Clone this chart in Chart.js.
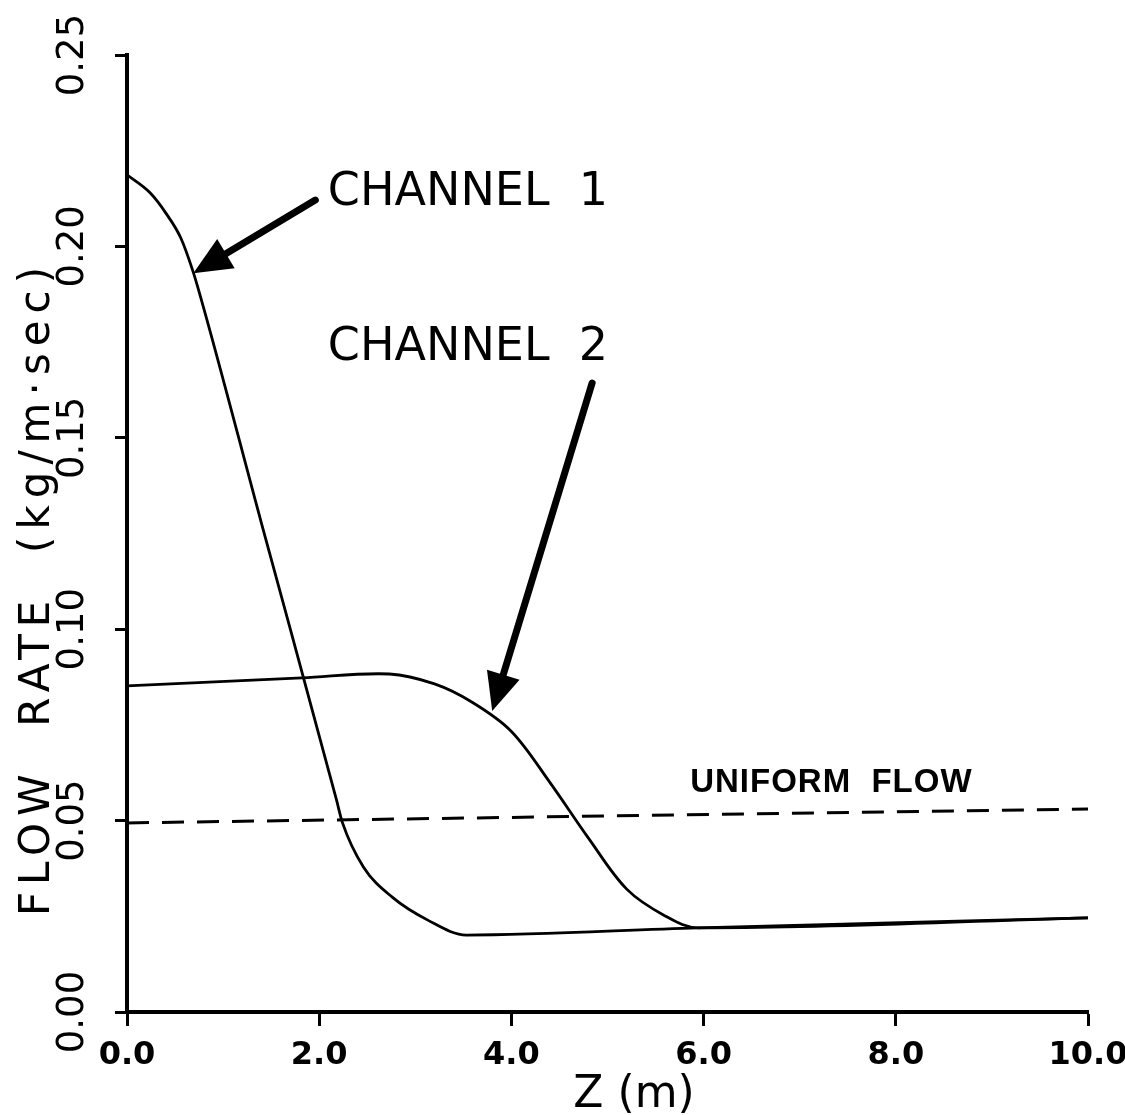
<!DOCTYPE html>
<html>
<head>
<meta charset="utf-8">
<script src="https://cdn.jsdelivr.net/npm/chart.js@4/dist/chart.umd.min.js"></script>
<style>
  html, body { margin: 0; padding: 0; background: #fff; }
  canvas { display: block; }
</style>
</head>
<body>
<canvas id="flowChart" width="1125" height="1115"></canvas>
<script>
// values
const zChannel1 = [0, 0.24, 0.41, 0.56, 0.68, 0.76, 1.40, 2.18, 2.24, 2.46, 2.76, 3.13, 3.53, 5.94, 10];
const flowChannel1 = [0.2187, 0.2140, 0.2085, 0.2022, 0.1940, 0.1873, 0.1276, 0.0554, 0.0496, 0.0379, 0.0300, 0.0240, 0.0201, 0.0220, 0.0246];

const zChannel2 = [0, 1.82, 2.73, 3.2, 3.6, 4.0, 4.4, 4.8, 5.2, 5.6, 5.94, 10];
const flowChannel2 = [0.0852, 0.0873, 0.0883, 0.0857, 0.0808, 0.0733, 0.0600, 0.0455, 0.0321, 0.0251, 0.0220, 0.0246];

const zUniform = [0, 10];
const flowUniform = [0.0494, 0.0530];

const zTicks = [0, 2, 4, 6, 8, 10];
const flowTicks = [0, 0.05, 0.10, 0.15, 0.20, 0.25];

const xTitle = 'Z (m)';
const yTitle = 'FLOW  RATE  (kg/m\u00B7sec)';

// labels and arrows, placed in data units
const labels = [
  { text: 'CHANNEL  1', z: 2.09, v: 0.2108, font: '46px "DejaVu Sans"', spacing: '0px' },
  { text: 'CHANNEL  2', z: 2.09, v: 0.1703, font: '46px "DejaVu Sans"', spacing: '0px' },
  { text: 'UNIFORM  FLOW', z: 5.86, v: 0.0575, font: 'bold 33px "Liberation Sans"', spacing: '1px' }
];
const arrows = [
  { from: [1.96, 0.2121], to: [0.69, 0.1930] },
  { from: [4.84, 0.1643], to: [3.80, 0.0786] }
];

function toPoints(xs, ys) {
  return xs.map((x, i) => ({ x: x, y: ys[i] }));
}

const lettering = {
  id: 'lettering',
  afterDraw(chart) {
    const { ctx, scales: { x, y } } = chart;
    ctx.save();
    ctx.fillStyle = '#000';
    ctx.strokeStyle = '#000';

    // axis titles
    ctx.textAlign = 'center';
    ctx.textBaseline = 'alphabetic';
    ctx.font = '44px "DejaVu Sans"';
    ctx.fillText(xTitle, 634, 1107);

    ctx.save();
    ctx.translate(49, 588);
    ctx.rotate(-Math.PI / 2);
    ctx.font = '42px "DejaVu Sans"';
    ctx.letterSpacing = '7px';
    ctx.fillText(yTitle, 0, 0);
    ctx.restore();

    // callouts
    ctx.textAlign = 'left';
    labels.forEach(l => {
      ctx.font = l.font;
      ctx.letterSpacing = l.spacing;
      ctx.fillText(l.text, x.getPixelForValue(l.z), y.getPixelForValue(l.v));
    });
    ctx.letterSpacing = '0px';

    arrows.forEach(a => {
      const x0 = x.getPixelForValue(a.from[0]), y0 = y.getPixelForValue(a.from[1]);
      const x1 = x.getPixelForValue(a.to[0]), y1 = y.getPixelForValue(a.to[1]);
      const ang = Math.atan2(y1 - y0, x1 - x0);
      const headLen = 38, headHalf = 17;
      const bx = x1 - headLen * Math.cos(ang), by = y1 - headLen * Math.sin(ang);
      ctx.lineWidth = 7;
      ctx.lineCap = 'round';
      ctx.beginPath();
      ctx.moveTo(x0, y0);
      ctx.lineTo(bx + 4 * Math.cos(ang), by + 4 * Math.sin(ang));
      ctx.stroke();
      ctx.beginPath();
      ctx.moveTo(x1, y1);
      ctx.lineTo(bx + headHalf * Math.sin(ang), by - headHalf * Math.cos(ang));
      ctx.lineTo(bx - headHalf * Math.sin(ang), by + headHalf * Math.cos(ang));
      ctx.closePath();
      ctx.fill();
    });
    ctx.restore();
  }
};

const lineStyle = {
  showLine: true,
  pointRadius: 0,
  borderColor: '#000',
  backgroundColor: '#000',
  borderWidth: 2.8,
  cubicInterpolationMode: 'monotone',
  fill: false
};

new Chart(document.getElementById('flowChart'), {
  type: 'scatter',
  data: {
    datasets: [
      Object.assign({ label: 'Channel 1', data: toPoints(zChannel1, flowChannel1) }, lineStyle),
      Object.assign({ label: 'Channel 2', data: toPoints(zChannel2, flowChannel2) }, lineStyle,
        { cubicInterpolationMode: 'default', tension: 0.35 }),
      Object.assign({ label: 'Uniform flow', data: toPoints(zUniform, flowUniform) }, lineStyle,
        { borderDash: [22, 13], borderWidth: 3, cubicInterpolationMode: 'default' })
    ]
  },
  options: {
    responsive: false,
    devicePixelRatio: 1,
    animation: false,
    layout: { padding: { top: 55, right: 37, left: 0, bottom: 0 } },
    plugins: {
      legend: { display: false },
      tooltip: { enabled: false }
    },
    scales: {
      x: {
        type: 'linear',
        min: 0,
        max: 10,
        afterBuildTicks: s => { s.ticks = zTicks.map(v => ({ value: v })); },
        afterFit: s => { s.height = 103; s.paddingLeft = 0; s.paddingRight = 0; },
        border: { display: true, color: '#000', width: 4 },
        grid: { drawOnChartArea: false, drawTicks: true, tickLength: 14, tickWidth: 3, tickColor: '#000' },
        ticks: {
          color: '#000',
          padding: 10,
          maxRotation: 0,
          font: { family: 'DejaVu Sans', size: 32, weight: 'bold' },
          callback: v => v.toFixed(1)
        }
      },
      y: {
        type: 'linear',
        min: 0,
        max: 0.25,
        afterBuildTicks: s => { s.ticks = flowTicks.map(v => ({ value: v })); },
        afterFit: s => { s.width = 127; s.paddingTop = 0; s.paddingBottom = 0; },
        border: { display: true, color: '#000', width: 4 },
        grid: { drawOnChartArea: false, drawTicks: true, tickLength: 12, tickWidth: 3, tickColor: '#000' },
        ticks: {
          color: '#000',
          padding: 0,
          minRotation: 90,
          maxRotation: 90,
          crossAlign: 'center',
          font: { family: 'DejaVu Sans', size: 37 },
          callback: v => v.toFixed(2)
        }
      }
    }
  },
  plugins: [lettering]
});
</script>
</body>
</html>
